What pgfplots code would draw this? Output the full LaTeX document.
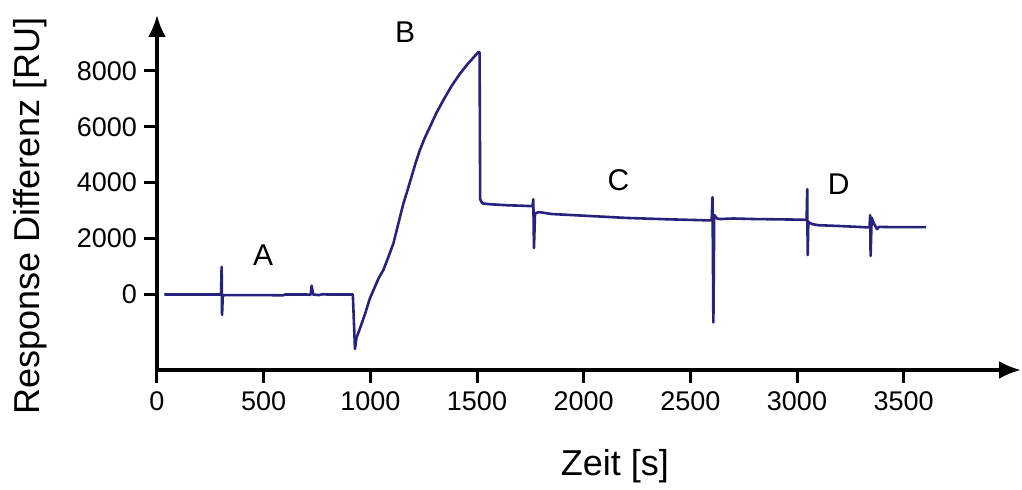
\documentclass[border=0pt]{standalone}
\usepackage{fontspec}
\setmainfont{Liberation Sans}
\usepackage{pgfplots}
\pgfplotsset{compat=1.18}
\usetikzlibrary{arrows.meta}
\definecolor{sprline}{RGB}{40,34,125}

\begin{document}
\begin{tikzpicture}
\useasboundingbox (-78.5pt,-60pt) rectangle (432.5pt,185pt);
\begin{axis}[
    scale only axis,
    width=432pt, height=177.5pt,
    xmin=0, xmax=4050,
    ymin=-2700, ymax=10000,
    axis lines=left,
    x axis line style={line width=1.7pt, -{Latex[length=11pt,width=9pt]}},
    y axis line style={line width=1.7pt, -{Latex[length=11pt,width=9pt]}},
    xtick={0,500,...,3500},
    ytick={0,2000,...,8000},
    scaled ticks=false,
    tick align=outside,
    major tick length=6.5pt,
    tick style={line width=1.5pt, black},
    /pgf/number format/assume math mode=true,
    /pgf/number format/set thousands separator={},
    ticklabel style={font=\fontsize{13.5}{16}\selectfont},
    xticklabel style={yshift=-1pt},
    xlabel={Zeit [s]},
    ylabel={Response Differenz [RU]},
    label style={font=\fontsize{18}{21}\selectfont},
    xlabel style={at={(axis description cs:0.53,0)}, anchor=center, yshift=-48pt},
    ylabel style={at={(axis description cs:0,0.434)}, anchor=center, yshift=63.5pt},
    clip=false,
]
\addplot[sprline, line width=1.3pt, line join=round] coordinates {
(35,0) (300,0) (303,990) (305,-730) (308,-100) (312,-20)
(500,-20) (590,-30) (600,0) (700,0) (720,-10) (725,315) (732,0)
(760,-20) (775,10) (800,0) (918,0)
(928,-1950) (935,-1550) (952,-1200) (975,-700) (998,-136)
(1020,250) (1040,600) (1061,875) (1085,1350) (1108,1830)
(1130,2500) (1155,3255) (1175,3750) (1193,4210) (1212,4700)
(1232,5160) (1255,5600) (1279,5990) (1310,6500) (1342,6950)
(1380,7450) (1420,7900) (1460,8280) (1506,8670)
(1512,8670) (1515,3400) (1525,3260) (1561,3230)
(1650,3190) (1700,3180) (1760,3160) (1764,3410) (1767,1660)
(1772,2900) (1790,2950) (1850,2880) (2000,2820) (2200,2740)
(2400,2690) (2600,2650) (2604,3480) (2608,-1000) (2612,2850)
(2625,2720) (2640,2700) (2700,2720) (2800,2700) (3000,2680)
(3045,2670) (3048,3770) (3050,1410) (3053,2600) (3070,2520)
(3100,2480) (3200,2450) (3340,2400) (3343,2840) (3345,1380)
(3350,2750) (3360,2550) (3375,2340) (3385,2420) (3450,2410)
(3605,2410)
};
\node[font=\fontsize{15}{18}\selectfont] at (axis cs:497,1410) {A};
\node[font=\fontsize{15}{18}\selectfont] at (axis cs:1163,9375) {B};
\node[font=\fontsize{15}{18}\selectfont] at (axis cs:2163,4090) {C};
\node[font=\fontsize{15}{18}\selectfont] at (axis cs:3195,3946) {D};
\end{axis}
\end{tikzpicture}
\end{document}
